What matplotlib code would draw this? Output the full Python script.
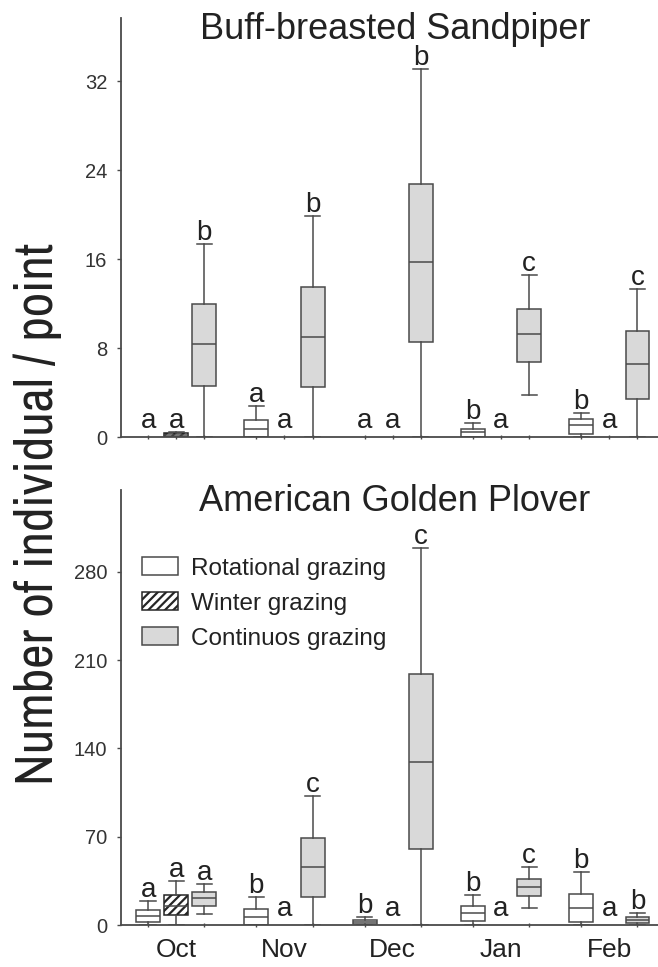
import matplotlib
matplotlib.use("Agg")
import matplotlib.pyplot as plt
from matplotlib import font_manager
from matplotlib.patches import Patch
from matplotlib.transforms import offset_copy

plt.rcParams["font.family"] = ["Liberation Sans", "DejaVu Sans"]
plt.rcParams["hatch.linewidth"] = 1.6

months = ["Oct", "Nov", "Dec", "Jan", "Feb"]
treatments = ["Rotational grazing", "Winter grazing", "Continuos grazing"]

# box stats per month: (whisker low, q1, median, q3, whisker high); None = no box
sandpiper_rot = [None, (0, 0, 0.8, 1.6, 2.8), None, (0, 0.05, 0.47, 0.76, 1.3), (0, 0.3, 1.1, 1.65, 2.2)]
sandpiper_win = [(0, 0.05, 0.2, 0.4, 0.5), None, None, None, None]
sandpiper_cont = [(0, 4.6, 8.4, 12.0, 17.4), (0, 4.5, 9.05, 13.5, 19.9), (0, 8.6, 15.75, 22.8, 33.1),
                  (3.8, 6.8, 9.3, 11.55, 14.6), (0, 3.45, 6.6, 9.6, 13.35)]
sandpiper_letters = [["a", "a", "b"], ["a", "a", "b"], ["a", "a", "b"], ["b", "a", "c"], ["b", "a", "c"]]

plover_rot = [(0, 2.1, 7.4, 11.9, 19.3), (0, 0, 6.6, 12.7, 22.0), (0, 0.8, 2.4, 4.0, 6.3),
              (0, 3.2, 9.2, 15.1, 23.8), (0, 2.4, 13.7, 24.6, 41.8)]
plover_win = [(0, 7.9, 15.0, 23.5, 34.9), None, None, None, None]
plover_cont = [(8.5, 15.1, 21.1, 25.9, 32.5), (0, 22.5, 45.7, 68.7, 102.0), (0, 60.2, 129.0, 199.0, 298.6),
               (13.7, 23.0, 29.9, 36.5, 45.7), (0, 1.3, 4.0, 6.6, 9.8)]
plover_letters = [["a", "a", "a"], ["b", "a", "c"], ["b", "a", "c"], ["b", "a", "c"], ["b", "a", "b"]]

sandpiper_ticks = [0, 8, 16, 24, 32]
plover_ticks = [0, 70, 140, 210, 280]

LINE = "#4a4a4a"
TEXT = "#222222"
styles = [dict(facecolor="white", hatch=None, edgecolor=LINE),
          dict(facecolor="white", hatch="////", edgecolor="#262626"),
          dict(facecolor="#d9d9d9", hatch=None, edgecolor=LINE)]
offsets = [-0.26, 0.0, 0.26]

# a narrow face for the y label, if one is installed
narrow = [f.name for f in font_manager.fontManager.ttflist
          if "Narrow" in f.name or "Condensed" in f.name]
label_family = sorted(set(narrow))[:1] + ["Liberation Sans", "DejaVu Sans"]


def draw_panel(ax, series, letters, ymax, yticks, title):
    for ti, rows in enumerate(series):
        for mi, row in enumerate(rows):
            pos = mi + offsets[ti]
            if row is not None:
                lo, q1, med, q3, hi = row
                stats = [dict(whislo=lo, q1=q1, med=med, q3=q3, whishi=hi, fliers=[])]
                st = styles[ti]
                ax.bxp(stats, positions=[pos], widths=0.22, patch_artist=True, showfliers=False,
                       manage_ticks=False, capwidths=0.14,
                       boxprops=dict(facecolor=st["facecolor"], edgecolor=st["edgecolor"],
                                     hatch=st["hatch"], linewidth=1.1),
                       medianprops=dict(color=LINE, linewidth=1.1),
                       whiskerprops=dict(color=LINE, linewidth=1.1),
                       capprops=dict(color=LINE, linewidth=1.1))
                y, dy = hi, 4
            else:
                y, dy = 0, 9
            tr = offset_copy(ax.transData, fig=ax.figure, y=dy, units="dots")
            ax.text(pos, y, letters[mi][ti], transform=tr, ha="center", va="baseline",
                    fontsize=20, color=TEXT)

    ax.set_xlim(-0.51, 4.45)
    ax.set_ylim(0, ymax)
    ax.set_yticks(yticks)
    ax.tick_params(axis="y", labelsize=14.5, labelcolor="#333333", length=3, width=1, color=LINE, pad=7)
    ax.set_xticks([m + o for m in range(len(months)) for o in offsets], minor=True)
    ax.tick_params(axis="x", which="minor", length=3, width=1, color=LINE, direction="inout")
    for side in ["top", "right"]:
        ax.spines[side].set_visible(False)
    for side in ["left", "bottom"]:
        ax.spines[side].set_color(LINE)
        ax.spines[side].set_linewidth(1.3)
    tr = offset_copy(ax.transAxes, fig=ax.figure, y=-21, units="dots")
    ax.text(0.51, 1.0, title, transform=tr, ha="center", va="baseline", fontsize=26, color=TEXT)


fig = plt.figure(figsize=(6.58, 9.67), dpi=100)
ax1 = fig.add_axes([0.1839, 0.5476, 0.8161, 0.4338])
ax2 = fig.add_axes([0.1839, 0.0434, 0.8161, 0.4499])

draw_panel(ax1, [sandpiper_rot, sandpiper_win, sandpiper_cont], sandpiper_letters, 37.7,
           sandpiper_ticks, "Buff-breasted Sandpiper")
draw_panel(ax2, [plover_rot, plover_win, plover_cont], plover_letters, 345,
           plover_ticks, "American Golden Plover")

ax1.set_xticks([])
ax2.set_xticks(range(len(months)))
ax2.set_xticklabels(months)
ax2.tick_params(axis="x", which="major", length=0, labelsize=19, labelcolor=TEXT, pad=9)

handles = [Patch(facecolor=s["facecolor"], edgecolor=s["edgecolor"], hatch=s["hatch"], linewidth=1.1)
           for s in styles]
ax2.legend(handles, treatments, loc="upper left", bbox_to_anchor=(0.04, 0.845), frameon=False,
           fontsize=17.5, handlelength=1.45, handleheight=0.75, handletextpad=0.55,
           labelspacing=0.52, borderpad=0, borderaxespad=0, labelcolor=TEXT)

fig.text(0.057, 0.4685, "Number of individual / point", rotation=90, ha="center", va="center",
         fontsize=38.5, color=TEXT, family=label_family, stretch="condensed")

fig.savefig("out.png", dpi=100)
